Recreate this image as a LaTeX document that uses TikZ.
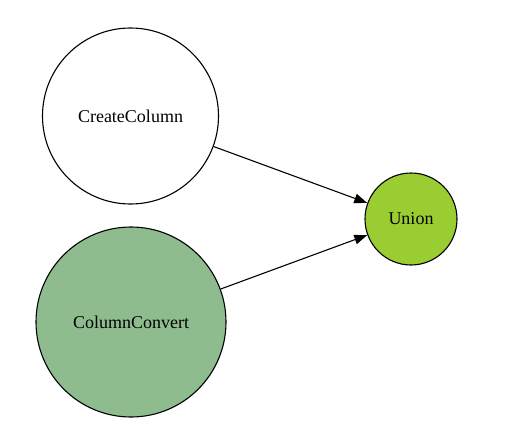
\documentclass[tikz,border=0pt]{standalone}
\usepackage{fontspec}
\setmainfont{Liberation Serif}
\usetikzlibrary{arrows.meta}
\definecolor{dseagreen}{HTML}{8FBC8F}
\definecolor{ygreen}{HTML}{9ACD32}
\begin{document}
\begin{tikzpicture}[x=1pt,y=-1pt,
  nd/.style={circle,draw=black,line width=1.1pt,inner sep=0pt,font=\fontsize{18}{20}\selectfont},
  edge/.style={draw=black,line width=1.1pt,-{Triangle[length=13pt,width=9.5pt]}}]
\useasboundingbox (0,0) rectangle (531,431);
\node[nd,minimum size=176pt] (cc) at (130.5,116) {CreateColumn};
\node[nd,fill=dseagreen,minimum size=190pt] (cv) at (131,322) {ColumnConvert};
\node[nd,fill=ygreen,minimum size=92pt] (u) at (411,219) {Union};
\draw[edge] (cc) -- (u);
\draw[edge] (cv) -- (u);
\end{tikzpicture}
\end{document}
